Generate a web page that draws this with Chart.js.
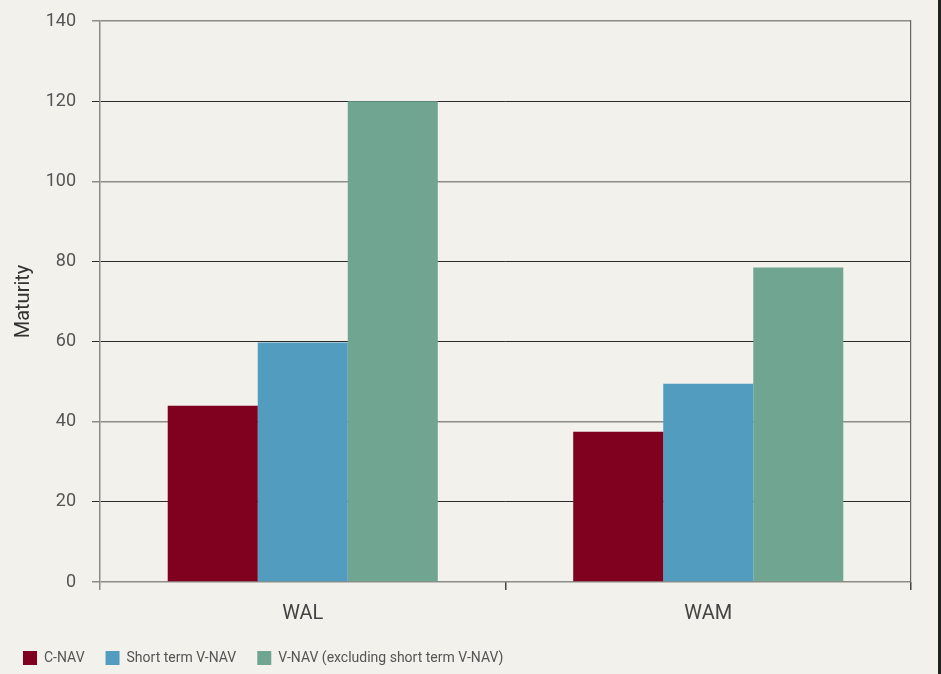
<!DOCTYPE html>
<html>
<head>
<meta charset="utf-8">
<script src="https://cdn.jsdelivr.net/npm/chart.js@4.4.0/dist/chart.umd.min.js"></script>
<style>
html,body{
margin:0;
padding:0;
background:#f2f1eb;
overflow:hidden;
}
#wrap{
position:relative;
width:938px;
height:674px;
border-right:3px solid #222;
}
</style>
</head>
<body>

<div id="wrap">
<canvas id="grafica"></canvas>
</div>

<script>

const categorias = ["WAL","WAM"];

const series = ["C-NAV","Short term V-NAV","V-NAV (excluding short term V-NAV)"];

const cNav = [44,37.5];
const shortVNav = [59.75,49.5];
const vNav = [120,78.5];

const colores = ["#800020","#529dbf","#70a592"];

const ticksY = [0,20,40,60,80,100,120,140];

// lines drawn darker across the plot
const lineasOscuras = [20,60,80,120];


const texto = "Roboto,sans-serif";


function sinMargen(scale){
scale.paddingTop = 0;
scale.paddingBottom = 0;
}


new Chart(document.getElementById("grafica"),{
type:"bar",
data:{
labels:categorias,
datasets:[
{label:series[0],data:cNav,backgroundColor:colores[0]},
{label:series[1],data:shortVNav,backgroundColor:colores[1]},
{label:series[2],data:vNav,backgroundColor:colores[2]}
]
},
options:{
responsive:true,
maintainAspectRatio:false,
animation:false,
layout:{
padding:{top:21,left:2,right:27,bottom:-1}
},
datasets:{
bar:{
barPercentage:1,
categoryPercentage:0.666
}
},
plugins:{
tooltip:{enabled:false},
legend:{
position:"bottom",
align:"start",
labels:{
boxWidth:14,
boxHeight:14,
padding:21,
color:"#555",
font:{family:texto,size:14}
}
}
},
scales:{
x:{
afterFit:scale=>{ scale.height = 48; },
grid:{
offset:true,
drawOnChartArea:false,
drawTicks:true,
tickLength:8,
lineWidth:1.5,
color:ctx=>ctx.index===0 ? "#8c8c88" : "#444"
},
border:{display:false},
ticks:{
color:"#444",
padding:12,
font:{family:texto,size:20}
}
},
y:{
min:0,
max:140,
afterFit:scale=>{
scale.width = 98;
sinMargen(scale);
},
afterBuildTicks:scale=>{
scale.ticks = ticksY.map(v=>({value:v}));
},
title:{
display:true,
text:"Maturity",
color:"#333",
padding:{top:10},
font:{family:texto,size:20}
},
grid:{
drawTicks:true,
tickLength:8,
color:ctx=>lineasOscuras.includes(ctx.tick.value) ? "#2b2b2b" : "#8c8c88",
lineWidth:ctx=>lineasOscuras.includes(ctx.tick.value) ? 1 : 1.5
},
border:{display:true,color:"#8c8c88",width:1.5},
ticks:{
color:"#555",
padding:16,
font:{family:texto,size:18}
}
},
yDerecha:{
position:"right",
min:0,
max:140,
afterFit:scale=>{
scale.width = 0;
sinMargen(scale);
},
grid:{display:false},
ticks:{display:false},
border:{display:true,color:"#666",width:1.2}
}
}
}
});

</script>
</body>
</html>
